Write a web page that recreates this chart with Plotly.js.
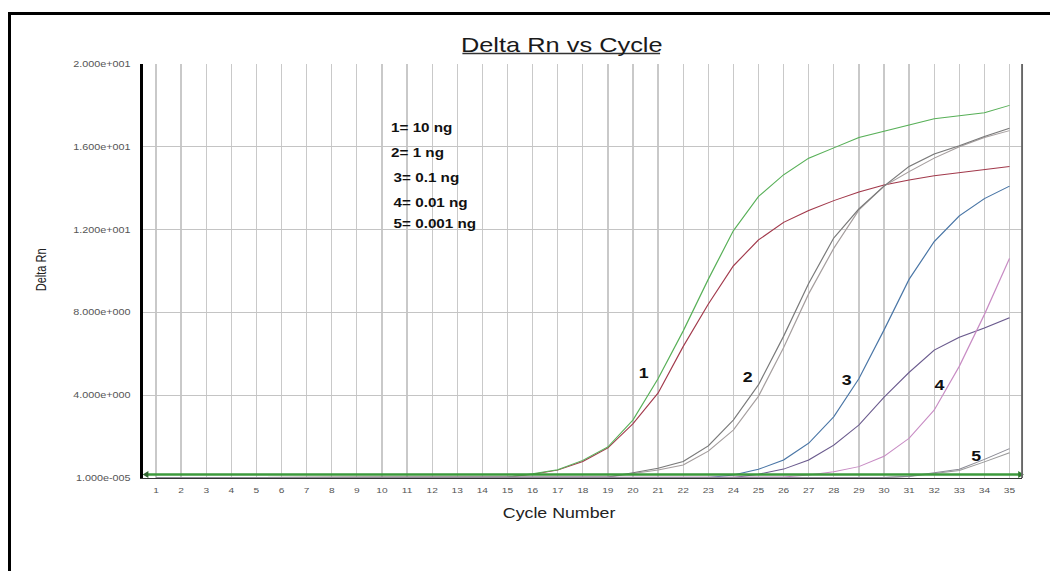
<!DOCTYPE html>
<html><head><meta charset="utf-8">
<script src="https://cdn.plot.ly/plotly-3.0.1.min.js"></script>
<style>
html,body{margin:0;padding:0;background:#fff;overflow:hidden;width:1050px;height:571px;}
#chart{position:absolute;left:0;top:0;width:827px;height:571px;transform:scaleX(1.26965);transform-origin:0 0;}
#frame{position:absolute;left:8px;top:12px;width:1100px;height:620px;border-top:3px solid #000;border-left:3px solid #000;pointer-events:none;}
</style></head><body>
<div id="chart"></div><div id="frame"></div>
<script>
const cycles = [1,2,3,4,5,6,7,8,9,10,11,12,13,14,15,16,17,18,19,20,21,22,23,24,25,26,27,28,29,30,31,32,33,34,35];
const yTickVals = [0,4,8,12,16,20];
const yTickText = ['1.000e-005','4.000e+000','8.000e+000','1.200e+001','1.600e+001','2.000e+001'];

const s1Green = [0.02,0.02,0.02,0.02,0.02,0.02,0.02,0.02,0.02,0.02,0.02,0.02,0.02,0.02,0.05,0.2,0.4,0.85,1.5,2.8,4.8,7.1,9.6,11.95,13.6,14.65,15.45,15.95,16.45,16.75,17.05,17.35,17.5,17.65,18.0];
const s1Red   = [0.02,0.02,0.02,0.02,0.02,0.02,0.02,0.02,0.02,0.02,0.02,0.02,0.02,0.02,0.05,0.18,0.38,0.8,1.45,2.62,4.1,6.35,8.4,10.25,11.5,12.35,12.92,13.4,13.82,14.15,14.4,14.6,14.75,14.88,15.05];
const s2Dark  = [0.02,0.02,0.02,0.02,0.02,0.02,0.02,0.02,0.02,0.02,0.02,0.02,0.02,0.02,0.02,0.02,0.02,0.02,0.05,0.25,0.47,0.8,1.55,2.8,4.5,6.85,9.4,11.6,13.0,14.1,15.05,15.65,16.05,16.5,16.9];
const s2Light = [0.02,0.02,0.02,0.02,0.02,0.02,0.02,0.02,0.02,0.02,0.02,0.02,0.02,0.02,0.02,0.02,0.02,0.02,0.04,0.22,0.39,0.63,1.3,2.32,3.95,6.3,8.9,11.1,12.95,14.1,14.8,15.45,16.0,16.45,16.78];
const s3Blue  = [0.02,0.02,0.02,0.02,0.02,0.02,0.02,0.02,0.02,0.02,0.02,0.02,0.02,0.02,0.02,0.02,0.02,0.02,0.02,0.02,0.02,0.02,0.02,0.15,0.42,0.87,1.68,2.96,4.8,7.15,9.6,11.42,12.66,13.5,14.1];
const s3Purple= [0.02,0.02,0.02,0.02,0.02,0.02,0.02,0.02,0.02,0.02,0.02,0.02,0.02,0.02,0.02,0.02,0.02,0.02,0.02,0.02,0.02,0.02,0.02,0.02,0.18,0.43,0.87,1.59,2.56,3.9,5.1,6.18,6.8,7.25,7.74];
const s4Pink  = [0.02,0.02,0.02,0.02,0.02,0.02,0.02,0.02,0.02,0.02,0.02,0.02,0.02,0.02,0.02,0.02,0.02,0.02,0.02,0.02,0.02,0.02,0.02,0.02,0.02,0.05,0.15,0.3,0.55,1.05,1.92,3.28,5.4,7.9,10.61];
const s5A     = [0.02,0.02,0.02,0.02,0.02,0.02,0.02,0.02,0.02,0.02,0.02,0.02,0.02,0.02,0.02,0.02,0.02,0.02,0.02,0.02,0.02,0.02,0.02,0.02,0.02,0.02,0.02,0.02,0.02,0.02,0.08,0.25,0.42,0.9,1.42];
const s5B     = [0.02,0.02,0.02,0.02,0.02,0.02,0.02,0.02,0.02,0.02,0.02,0.02,0.02,0.02,0.02,0.02,0.02,0.02,0.02,0.02,0.02,0.02,0.02,0.02,0.02,0.02,0.02,0.02,0.02,0.02,0.07,0.22,0.36,0.78,1.22];

const thresholdValue = 0.17;
const thresholdX = [0.62, 35.42];

const seriesList = [
  {y: s1Red, color: '#a23a4c'},
  {y: s1Green, color: '#58b058'},
  {y: s2Light, color: '#a59e9e'},
  {y: s2Dark, color: '#7a7a7a'},
  {y: s3Purple, color: '#6b5b8e'},
  {y: s3Blue, color: '#4a76a6'},
  {y: s4Pink, color: '#c88cc4'},
  {y: s5B, color: '#9a9a9a'},
  {y: s5A, color: '#8c8c96'}
];

const legendLines = ['1= 10 ng','2= 1 ng','3= 0.1 ng','4= 0.01 ng','5= 0.001 ng'];
const legendX = [10.25, 10.25, 10.36, 10.36, 10.36];
const legendY = [16.92, 15.69, 14.48, 13.27, 12.27];
const curveLabels = ['1','2','3','4','5'];
const curveLabelX = [20.44, 24.55, 28.51, 32.21, 33.68];
const curveLabelY = [5.06, 4.9, 4.73, 4.49, 1.06];

const FONT = 'Liberation Sans, Arial, sans-serif';

const traces = seriesList.map(s => ({
  x: cycles, y: s.y, type: 'scatter', mode: 'lines',
  line: {color: s.color, width: 1}, hoverinfo: 'skip'
}));
traces.push({
  x: thresholdX, y: [thresholdValue, thresholdValue], type: 'scatter', mode: 'lines+markers',
  line: {color: '#3c9a3c', width: 2.5},
  marker: {symbol: ['triangle-left','triangle-right'], size: 6, color: ['#336633','#2f7a2f']},
  cliponaxis: false, hoverinfo: 'skip'
});

const annotations = [];
annotations.push({text: 'Delta Rn vs Cycle', xref: 'paper', yref: 'paper', x: 0.4757, y: 1.047,
  xanchor: 'center', yanchor: 'middle', showarrow: false, font: {family: FONT, size: 20, color: '#1a1a1a'}});
annotations.push({text: 'Cycle Number', xref: 'paper', yref: 'paper', x: 0.473, y: -0.0845,
  xanchor: 'center', yanchor: 'middle', showarrow: false, font: {family: FONT, size: 14, color: '#222'}});
annotations.push({text: 'Delta Rn', xref: 'paper', yref: 'paper', x: -0.117, y: 0.502, textangle: -90,
  xanchor: 'center', yanchor: 'middle', showarrow: false, font: {family: FONT, size: 11, color: '#222'}});
legendLines.forEach((t, i) => annotations.push({text: '<b>' + t + '</b>', x: legendX[i], y: legendY[i],
  xanchor: 'left', yanchor: 'middle', showarrow: false, font: {family: FONT, size: 12, color: '#111'}}));
curveLabels.forEach((t, i) => annotations.push({text: '<b>' + t + '</b>', x: curveLabelX[i], y: curveLabelY[i],
  xanchor: 'center', yanchor: 'middle', showarrow: false, font: {family: FONT, size: 14, color: '#111'}}));

const layout = {
  width: 827, height: 571,
  margin: {l: 113, r: 22, t: 64, b: 93, pad: 0},
  paper_bgcolor: 'rgba(0,0,0,0)', plot_bgcolor: '#ffffff',
  showlegend: false,
  font: {family: FONT},
  xaxis: {range: [0.5, 35.5], tickmode: 'array', tickvals: cycles, ticktext: cycles.map(String),
    showgrid: true, gridcolor: '#c9c9c9', gridwidth: 1, showline: true, linecolor: '#333', linewidth: 1,
    ticks: '', zeroline: false, tickfont: {family: FONT, size: 8, color: '#555'}, ticklabelstandoff: 4, fixedrange: true},
  yaxis: {range: [0, 20], tickmode: 'array', tickvals: yTickVals, ticktext: yTickText,
    showgrid: true, gridcolor: '#c4c4c4', gridwidth: 1, showline: true, linecolor: '#000', linewidth: 2.5,
    ticks: '', zeroline: false, tickfont: {family: FONT, size: 8.5, color: '#555'}, ticklabelstandoff: 6, fixedrange: true},
  shapes: [
    {type: 'line', xref: 'paper', yref: 'paper', x0: 1, x1: 1, y0: 0, y1: 1, line: {color: '#666', width: 1.5}},
    {type: 'line', xref: 'paper', yref: 'paper', x0: 0.363, x1: 0.588, y0: 1.0254, y1: 1.0254, line: {color: '#333', width: 1.5}}
  ],
  annotations: annotations
};

Plotly.newPlot('chart', traces, layout, {displayModeBar: false, staticPlot: true});
</script>
</body></html>
